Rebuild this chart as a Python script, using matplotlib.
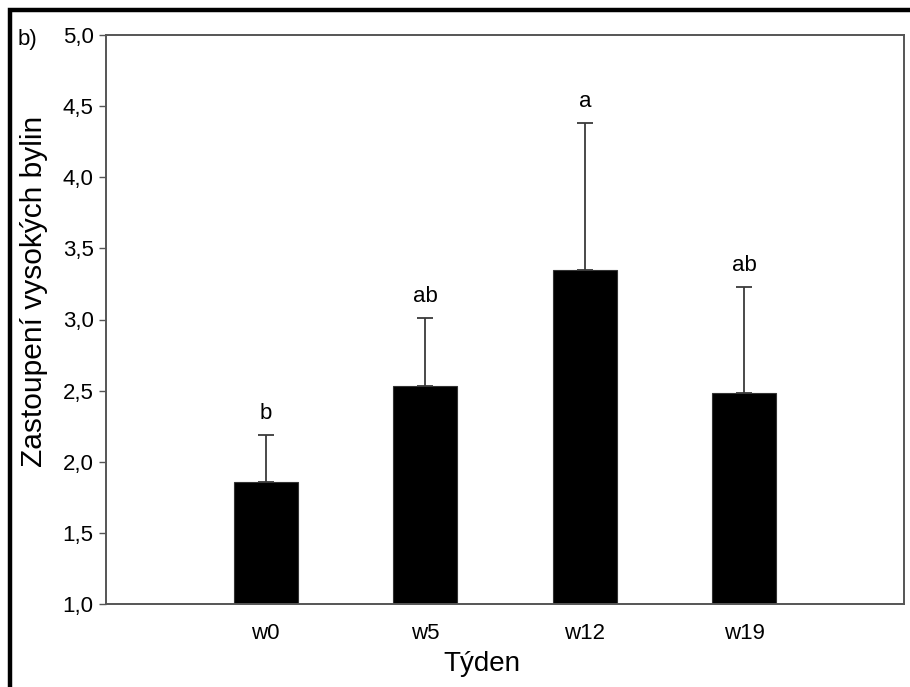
import matplotlib
matplotlib.use("Agg")
import matplotlib.pyplot as plt
from matplotlib.patches import Rectangle

# data
weeks = ["w0", "w5", "w12", "w19"]
means = [1.86, 2.53, 3.35, 2.48]
upper = [2.19, 3.01, 4.38, 3.23]
letters = ["b", "ab", "a", "ab"]
yticks = [1.0, 1.5, 2.0, 2.5, 3.0, 3.5, 4.0, 4.5, 5.0]

plt.rcParams["font.family"] = ["Liberation Sans", "DejaVu Sans"]

W, H, DPI = 910, 687, 100
fig = plt.figure(figsize=(W / DPI, H / DPI), dpi=DPI)

ax = fig.add_axes([106 / W, 1 - 604 / H, (904 - 106) / W, (604 - 35) / H])

x = list(range(len(weeks)))
errs = [u - m for u, m in zip(upper, means)]
ax.bar(x, [m - 1.0 for m in means], bottom=1.0, width=0.4, color="black",
       edgecolor="#333333", linewidth=0.8, zorder=2)
ax.errorbar(x, means, yerr=[[0] * len(errs), errs], fmt="none",
            ecolor="#3a3a3a", elinewidth=1.3, capsize=5.8, capthick=1.3, zorder=3)

for xi, u, lab in zip(x, upper, letters):
    ax.annotate(lab, (xi, u), xytext=(0, 16), textcoords="offset pixels",
                ha="center", va="baseline", fontsize=16)

ax.set_xlim(-1, 4)
ax.set_ylim(1.0, 5.0)
ax.set_xticks(x)
ax.set_xticklabels(weeks, fontsize=16)
ax.set_yticks(yticks)
ax.set_yticklabels([f"{v:.1f}".replace(".", ",") for v in yticks], fontsize=16)
ax.tick_params(axis="x", length=0, pad=14)
ax.tick_params(axis="y", direction="out", length=5, width=1.0, color="#555555", pad=4)
for s in ax.spines.values():
    s.set_color("#555555")
    s.set_linewidth(1.4)

ax.set_xlabel("Týden", fontsize=20)
ax.xaxis.set_label_coords(0.471, -0.083)
ax.set_ylabel("Zastoupení vysokých bylin", fontsize=21.5)
ax.yaxis.set_label_coords(-0.073, 0.55)

fig.text(18 / W, 1 - 40 / H, "b)", fontsize=16, va="center", ha="left")

# outer frame, open on the right and bottom
fig.add_artist(Rectangle((10 / W, -0.1), 1.2, 1.1 - 10 / H, transform=fig.transFigure,
                         fill=False, edgecolor="black", linewidth=3.2))

fig.savefig("out.png", dpi=DPI)
